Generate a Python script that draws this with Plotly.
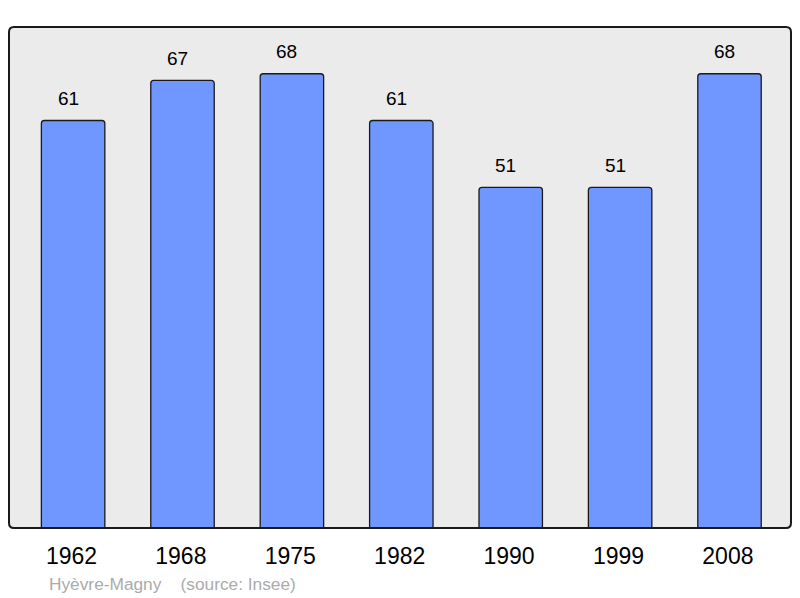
import plotly.graph_objects as go

years = ["1962", "1968", "1975", "1982", "1990", "1999", "2008"]
population = [61, 67, 68, 61, 51, 51, 68]
source_text = "Hyèvre-Magny\u00a0\u00a0\u00a0\u00a0(source: Insee)"

FONT = "Liberation Sans, Arial, sans-serif"

fig = go.Figure()
fig.add_trace(go.Bar(
    x=list(range(len(years))), y=population,
    width=0.58,
    marker=dict(color="#7096FF", line=dict(color="#1a1a1a", width=1.3), cornerradius=3),
    hoverinfo="skip",
))

annotations = []
for i, v in enumerate(population):
    annotations.append(dict(
        x=i, y=v, xref="x", yref="y", text=str(v), showarrow=False,
        yanchor="middle", yshift=22, xshift=-5,
        font=dict(family=FONT, size=19, color="#000"),
    ))
annotations.append(dict(
    x=0.049, y=-0.112, xref="paper", yref="paper", text=source_text, showarrow=False,
    xanchor="left", yanchor="middle", font=dict(family=FONT, size=17.3, color="#ababab"),
))

W, H = 782.5, 501.0
r = 5.0
rx, ry = r / W, r / H
path = (f"M {rx},0 L {1-rx},0 Q 1,0 1,{ry} L 1,{1-ry} Q 1,1 {1-rx},1 "
        f"L {rx},1 Q 0,1 0,{1-ry} L 0,{ry} Q 0,0 {rx},0 Z")

fig.update_layout(
    width=792, height=590,
    margin=dict(l=1, r=8.5, t=19, b=70),
    paper_bgcolor="white", plot_bgcolor="rgba(0,0,0,0)",
    showlegend=False,
    annotations=annotations,
    shapes=[
        dict(type="path", path=path, xref="paper", yref="paper", layer="below",
             fillcolor="#ebebeb", line=dict(width=0)),
        dict(type="path", path=path, xref="paper", yref="paper", layer="above",
             fillcolor="rgba(0,0,0,0)", line=dict(color="#1a1a1a", width=2)),
    ],
    xaxis=dict(range=[-0.586, 6.562], tickmode="array",
               tickvals=[i - 0.015 for i in range(len(years))],
               ticktext=years, showgrid=False, zeroline=False, showline=False,
               ticks="", ticklabelstandoff=12,
               tickfont=dict(family=FONT, size=23, color="#000"), fixedrange=True),
    yaxis=dict(range=[0, 75], showgrid=False, zeroline=False, showline=False,
               showticklabels=False, ticks="", fixedrange=True),
)

fig.write_html("out.html")
